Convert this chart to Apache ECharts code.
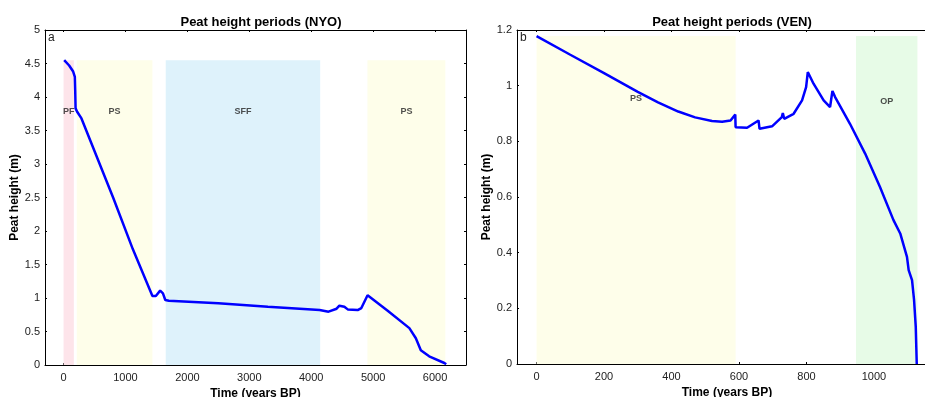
<!DOCTYPE html>
<html>
<head>
<meta charset="utf-8">
<script src="https://cdn.jsdelivr.net/npm/echarts@6/dist/echarts.min.js"></script>
<style>
html,body{margin:0;padding:0;background:#fff;}
#chart{width:925px;height:397px;}
</style>
</head>
<body>
<div id="chart"></div>
<script>
// NYO core (panel a)
var nyoTime = [10, 90, 155, 182, 188, 194, 219, 289, 800, 1118, 1435, 1490, 1560, 1605, 1643, 1700, 2500, 3300, 4135, 4280, 4410, 4455, 4535, 4590, 4750, 4810, 4910, 5235, 5585, 5690, 5770, 5905, 6150, 6180];
var nyoHeight = [4.55, 4.47, 4.38, 4.30, 4.10, 3.83, 3.78, 3.68, 2.50, 1.73, 1.03, 1.03, 1.11, 1.07, 0.97, 0.96, 0.92, 0.87, 0.82, 0.796, 0.84, 0.885, 0.87, 0.83, 0.82, 0.85, 1.04, 0.81, 0.55, 0.40, 0.22, 0.13, 0.03, 0.01];
var nyoPeriods = ['PF', 'PS', 'SFF', 'PS'];
var nyoStart = [0, 213, 1650, 4908];
var nyoEnd = [166, 1435, 4145, 6166];
var nyoColors = ['#fde4ea', '#fefeea', '#def2fb', '#fefeea'];
var nyoTop = 4.55;
var nyoLabelY = 3.79;

// VEN core (panel b)
var venTime = [0, 100, 200, 300, 360, 420, 470, 520, 550, 575, 589, 590, 624, 658, 661, 698, 727, 730, 734, 762, 787, 799, 804, 821, 851, 870, 877, 885, 929, 974, 1018, 1058, 1078, 1098, 1103, 1113, 1119, 1124, 1127];
var venHeight = [1.178, 1.111, 1.045, 0.978, 0.940, 0.907, 0.886, 0.873, 0.870, 0.875, 0.896, 0.851, 0.849, 0.875, 0.845, 0.854, 0.887, 0.902, 0.881, 0.899, 0.947, 0.995, 1.049, 1.007, 0.947, 0.923, 0.981, 0.959, 0.863, 0.756, 0.636, 0.517, 0.469, 0.385, 0.337, 0.301, 0.23, 0.134, 0];
var venPeriods = ['PS', 'OP'];
var venStart = [0, 947];
var venEnd = [590, 1129];
var venColors = ['#fefeea', '#e7fbe7'];
var venTop = 1.178;
var venLabelY = [0.955, 0.943];

var nyoTicks = [0, 1000, 2000, 3000, 4000, 5000, 6000];
var venTicks = [0, 200, 400, 600, 800, 1000];

function pairs(xs, ys) {
	var out = [];
	for (var i = 0; i < xs.length; i++) out.push([xs[i], ys[i]]);
	return out;
}

function bands(start, end, colors, top) {
	var out = [];
	for (var i = 0; i < start.length; i++) {
		out.push([{xAxis: start[i], yAxis: 0, itemStyle: {color: colors[i]}}, {xAxis: end[i], yAxis: top}]);
	}
	return out;
}

function labelPts(start, end, names, ys) {
	var out = [];
	for (var i = 0; i < names.length; i++) {
		var y = Array.isArray(ys) ? ys[i] : ys;
		out.push({value: [(start[i] + end[i]) / 2, y], name: names[i]});
	}
	return out;
}

var font = 'Liberation Sans, Arial, sans-serif';
var line = {show: true, onZero: false, lineStyle: {color: '#000', width: 1}};

function bottomAxis(grid, min, max, ticks) {
	return {
		type: 'value', gridIndex: grid, min: min, max: max,
		name: 'Time (years BP)', nameLocation: 'middle', nameGap: 19,
		nameTextStyle: {fontFamily: font, fontWeight: 'bold', fontSize: 12, color: '#000'},
		splitLine: {show: false},
		axisLine: line,
		axisTick: {inside: true, length: 2, customValues: ticks, lineStyle: {color: '#000'}},
		axisLabel: {customValues: ticks, formatter: function (v) { return String(v); },
			fontFamily: font, fontSize: 11, color: '#222', margin: 7}
	};
}
function topAxis(grid, min, max, ticks) {
	return {
		type: 'value', gridIndex: grid, min: min, max: max, position: 'top',
		splitLine: {show: false},
		axisLine: line,
		axisTick: {inside: true, length: 2, customValues: ticks, lineStyle: {color: '#000'}},
		axisLabel: {show: false}
	};
}
function leftAxis(grid, max, interval) {
	return {
		type: 'value', gridIndex: grid, min: 0, max: max, interval: interval,
		name: 'Peat height (m)', nameLocation: 'middle', nameGap: 18,
		nameTextStyle: {fontFamily: font, fontWeight: 'bold', fontSize: 12, color: '#000'},
		splitLine: {show: false},
		axisLine: line,
		axisTick: {inside: true, length: 2, lineStyle: {color: '#000'}},
		axisLabel: {fontFamily: font, fontSize: 11, color: '#222', margin: 5}
	};
}
function rightAxis(grid, max, interval) {
	return {
		type: 'value', gridIndex: grid, min: 0, max: max, interval: interval, position: 'right',
		splitLine: {show: false},
		axisLine: line,
		axisTick: {inside: true, length: 2, lineStyle: {color: '#000'}},
		axisLabel: {show: false}
	};
}

var chart = echarts.init(document.getElementById('chart'));
var option = {
	animation: false,
	backgroundColor: '#fff',
	title: [
		{text: 'Peat height periods (NYO)', left: 256, top: 11, textAlign: 'center',
			textStyle: {fontFamily: font, fontSize: 13, fontWeight: 'bold', color: '#000'}},
		{text: 'Peat height periods (VEN)', left: 727, top: 11, textAlign: 'center',
			textStyle: {fontFamily: font, fontSize: 13, fontWeight: 'bold', color: '#000'}},
		{text: 'a', left: 48, top: 32, padding: 0, textStyle: {fontFamily: font, fontSize: 12, fontWeight: 'normal', color: '#222'}},
		{text: 'b', left: 520, top: 32, padding: 0, textStyle: {fontFamily: font, fontSize: 12, fontWeight: 'normal', color: '#222'}}
	],
	grid: [
		{left: 45, top: 30, width: 421, height: 335, outerBoundsMode: 'none'},
		{left: 517, top: 30, width: 420, height: 334, outerBoundsMode: 'none'}
	],
	xAxis: [
		bottomAxis(0, -300, 6500, nyoTicks),
		topAxis(0, -300, 6500, nyoTicks),
		bottomAxis(1, -58, 1187, venTicks),
		topAxis(1, -58, 1187, venTicks)
	],
	yAxis: [
		leftAxis(0, 5, 0.5),
		rightAxis(0, 5, 0.5),
		leftAxis(1, 1.2, 0.2),
		rightAxis(1, 1.2, 0.2)
	],
	series: [
		{
			type: 'line', xAxisIndex: 0, yAxisIndex: 0, symbol: 'none', z: 3,
			data: pairs(nyoTime, nyoHeight),
			lineStyle: {color: '#0000ff', width: 2.5},
			markArea: {silent: true, data: bands(nyoStart, nyoEnd, nyoColors, nyoTop)}
		},
		{
			type: 'scatter', xAxisIndex: 0, yAxisIndex: 0, symbolSize: 0, z: 4,
			data: labelPts(nyoStart, nyoEnd, nyoPeriods, nyoLabelY),
			label: {show: true, position: 'inside', formatter: '{b}', fontFamily: font, fontSize: 9, fontWeight: 'bold', color: '#222'}
		},
		{
			type: 'line', xAxisIndex: 2, yAxisIndex: 2, symbol: 'none', z: 3,
			data: pairs(venTime, venHeight),
			lineStyle: {color: '#0000ff', width: 2.5},
			markArea: {silent: true, data: bands(venStart, venEnd, venColors, venTop)}
		},
		{
			type: 'scatter', xAxisIndex: 2, yAxisIndex: 2, symbolSize: 0, z: 4,
			data: labelPts(venStart, venEnd, venPeriods, venLabelY),
			label: {show: true, position: 'inside', formatter: '{b}', fontFamily: font, fontSize: 9, fontWeight: 'bold', color: '#222'}
		}
	]
};
chart.setOption(option);
</script>
</body>
</html>
